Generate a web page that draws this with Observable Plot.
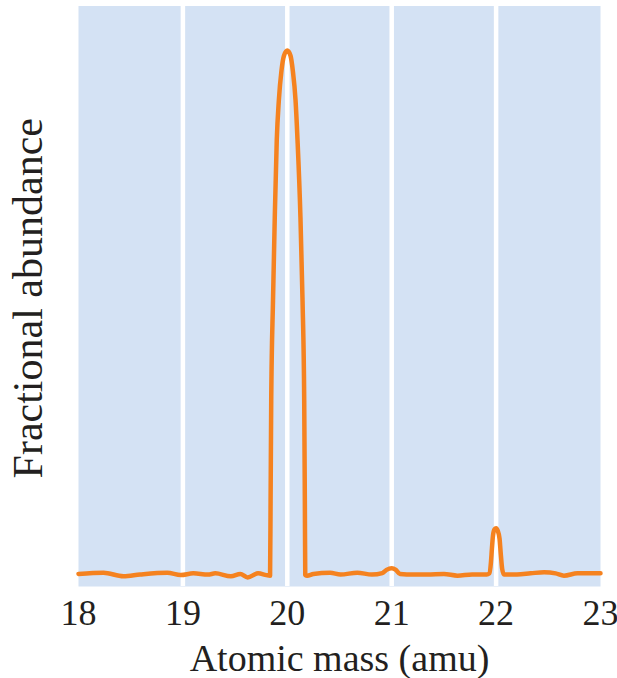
<!DOCTYPE html>
<html>
<head>
<meta charset="utf-8">
<script src="https://cdn.jsdelivr.net/npm/d3@7"></script>
<script src="https://cdn.jsdelivr.net/npm/@observablehq/plot@0.6"></script>
<style>
  html, body { margin: 0; padding: 0; background: #ffffff; }
</style>
</head>
<body>
<div id="chart"></div>
<script>
// Atomic mass (amu) sample positions
const mass = [
  18.00, 18.24, 18.43, 18.59, 18.85, 18.98, 19.10, 19.24, 19.31, 19.46,
  19.55, 19.62, 19.72, 19.80, 19.835,
  19.840, 19.846, 19.863, 19.880, 19.899, 19.919, 19.944, 19.968, 20.000,
  20.031, 20.053, 20.079, 20.098, 20.126, 20.146, 20.162, 20.168, 20.172,
  20.19, 20.25, 20.41, 20.51, 20.67, 20.81, 20.91, 20.95, 21.00, 21.04,
  21.08, 21.21, 21.34, 21.50, 21.63, 21.77, 21.91,
  21.935, 21.950, 21.960, 21.970, 21.985, 22.000, 22.015, 22.033, 22.045,
  22.058, 22.075,
  22.11, 22.20, 22.33, 22.46, 22.57, 22.65, 22.78, 22.90, 23.00
];
// Fractional abundance at each mass
const abundance = [
  0.001, 0.003, -0.003, 0.000, 0.003, -0.001, 0.002, 0.000, 0.002, -0.003,
  0.001, -0.005, 0.002, -0.001, -0.002,
  0.128, 0.300, 0.473, 0.617, 0.750, 0.819, 0.870, 0.896, 0.905,
  0.896, 0.870, 0.819, 0.750, 0.617, 0.473, 0.300, 0.128, -0.001,
  -0.002, 0.001, 0.003, 0.000, 0.003, 0.000, 0.0025, 0.008, 0.011, 0.008,
  0.001, 0.000, 0.000, 0.001, -0.002, 0.000, 0.000,
  0.002, 0.020, 0.045, 0.067, 0.078, 0.080, 0.076, 0.062, 0.035,
  0.010, 0.000,
  0.000, 0.000, 0.002, 0.004, 0.002, -0.002, 0.002, 0.002, 0.002
];
const xTicks = [18, 19, 20, 21, 22, 23];
const gridMasses = [19, 20, 21, 22];
const xLabel = "Atomic mass (amu)";
const yLabel = "Fractional abundance";

const data = mass.map((m, i) => ({mass: m, abundance: abundance[i]}));

const serif = "'Liberation Serif', 'Times New Roman', 'DejaVu Serif', serif";

const chart = Plot.plot({
  width: 617,
  height: 678,
  marginTop: 5.5,
  marginBottom: 92,
  marginLeft: 78,
  marginRight: 17,
  style: {fontFamily: serif, fontSize: "36px", color: "#231f20", background: "#ffffff"},
  x: {domain: [18, 23], ticks: xTicks, tickFormat: d3.format("d")},
  y: {domain: [-0.0207, 0.982]},
  marks: [
    Plot.frame({fill: "#d4e2f4", stroke: null}),
    Plot.ruleX(gridMasses, {stroke: "#ffffff", strokeWidth: 4.5}),
    Plot.line(data, {x: "mass", y: "abundance", stroke: "#f5821f", strokeWidth: 4.5, curve: "monotone-x", strokeLinejoin: "round", strokeLinecap: "round"}),
    Plot.axisX(xTicks, {tickSize: 0, tickPadding: 13, label: null, fontSize: 36, fill: "#231f20"}),
    Plot.axisY({ticks: [], tickSize: 0, label: null}),
    Plot.text([xLabel], {frameAnchor: "bottom", lineAnchor: "bottom", dy: 84, fontSize: 38, fill: "#231f20"}),
    Plot.text([yLabel], {frameAnchor: "left", textAnchor: "middle", lineAnchor: "middle", rotate: -90, dx: -50, dy: 2, fontSize: 42, fill: "#231f20"})
  ]
});
document.getElementById("chart").appendChild(chart);
</script>
</body>
</html>
